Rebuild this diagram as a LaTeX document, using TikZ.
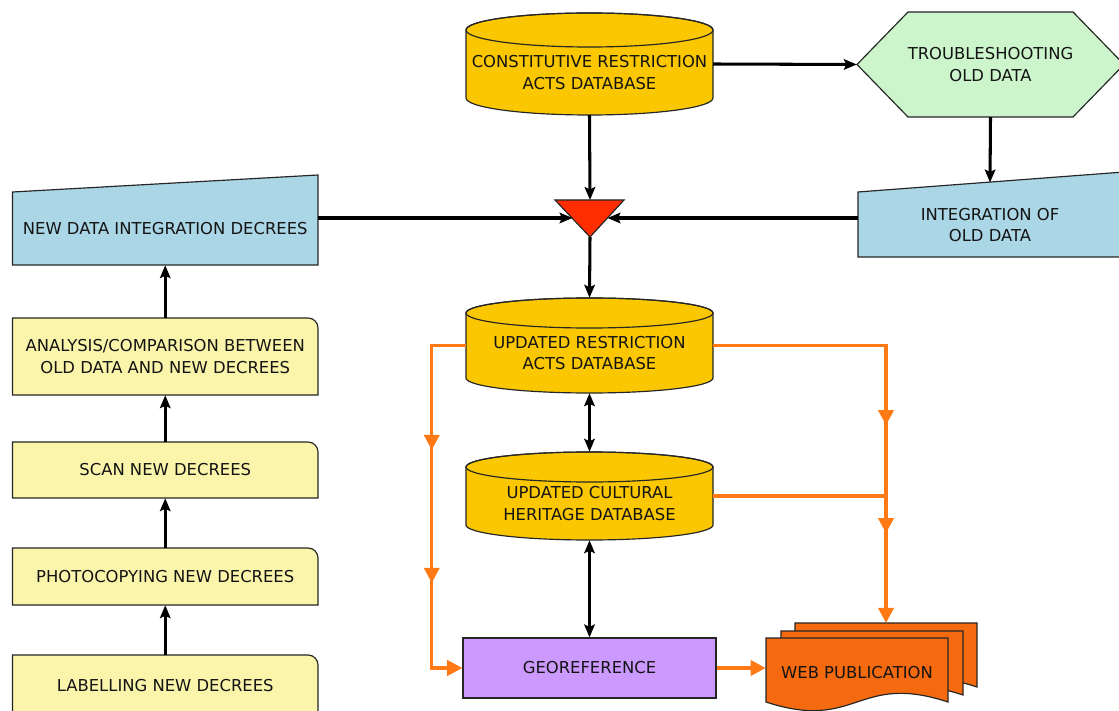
\documentclass[tikz,border=0pt]{standalone}
\usepackage{fontspec}
\setmainfont{DejaVu Sans}
\usetikzlibrary{arrows.meta,calc,decorations.markings}
\definecolor{gold}{RGB}{250,199,0}
\definecolor{skyb}{RGB}{170,214,230}
\definecolor{yel}{RGB}{250,245,170}
\definecolor{hexg}{RGB}{204,245,204}
\definecolor{lav}{RGB}{204,153,255}
\definecolor{trired}{RGB}{255,45,0}
\definecolor{orln}{RGB}{255,122,20}
\definecolor{webor}{RGB}{245,105,15}
\definecolor{txt}{RGB}{20,20,20}
\tikzset{
  lbl/.style={font=\fontsize{14}{18}\selectfont, text=txt, align=center, inner sep=0pt},
  outl/.style={draw=black!85, line width=1pt},
  blk/.style={line width=2.6pt, -{Stealth[length=11pt,width=9pt,inset=2pt]}},
  dbl/.style={line width=2.6pt, {Stealth[length=11pt,width=9pt,inset=2pt]}-{Stealth[length=11pt,width=9pt,inset=2pt]}},
  org/.style={draw=orln, line width=2.8pt},
  otip/.style={-{Triangle[length=13pt,width=13pt]}},
}
\newcommand\dbcyl[6]{%
  \path[fill=gold, outl] (#2-123.5,-#3-#5) -- (#2-123.5,-#4+#5) arc (180:360:123.5 and #5) -- (#2+123.5,-#3-#5) arc (0:180:123.5 and #5) -- cycle;
  \draw[outl] (#2,-#3-#5) ellipse (123.5 and #5);
  \node[lbl, minimum width=7.41cm, minimum height={(#4-#3)*0.03cm}] (#1) at (#2,{-(#3+#4)/2}) {};
  \node[lbl] (#1-t) at ($(#1.center)+(0,-#5/2)$) {#6};
}
\newcommand\ybox[4]{%
  \path[fill=yel, outl] (12.5,-#3) -- (12.5,-#2) -- (308,-#2) arc (90:0:10) -- (318,-#3) -- cycle;
  \node[lbl, minimum width=9.165cm, minimum height={(#3-#2)*0.03cm}] (#1) at (165.25,{-(#2+#3)/2}) {#4};
}
\newcommand\docsh[2]{%
  \path[fill=webor, outl] (766+#1,-638+#2) -- (948+#1,-638+#2) -- (948+#1,-702+#2)
    .. controls (857+#1,-672+#2) and (857+#1,-732+#2) .. (766+#1,-702+#2) -- cycle;
}
\begin{document}
\begin{tikzpicture}[x=0.03cm,y=0.03cm]
\fill[white] (0,0) rectangle (1119,-711);
\useasboundingbox (0,0) rectangle (1119,-711);

% top database
\dbcyl{c1}{589.5}{13}{115}{17}{CONSTITUTIVE RESTRICTION\\ACTS DATABASE}

% hexagon
\path[fill=hexg, outl] (857,-64.5) -- (908,-12) -- (1073,-12) -- (1124,-64.5) -- (1073,-117) -- (908,-117) -- cycle;
\node[lbl, minimum width=8.01cm, minimum height=3.15cm] (hex) at (990.5,-64.5) {TROUBLESHOOTING\\OLD DATA};

% integration of old data
\path[fill=skyb, outl] (858,-192) -- (1124,-172) -- (1124,-257) -- (858,-257) -- cycle;
\node[lbl, minimum width=7.92cm, minimum height=1.92cm] (int) at (990,-225) {INTEGRATION OF\\OLD DATA};
\coordinate (inttop) at (990,-182.5);

% new data integration decrees
\path[fill=skyb, outl] (12.5,-192) -- (318,-175) -- (318,-265) -- (12.5,-265) -- cycle;
\node[lbl, minimum width=9.165cm, minimum height=2.16cm] (ndi) at (165.25,-229) {NEW DATA INTEGRATION DECREES};

% triangle
\path[fill=trired, outl] (555,-200) -- (624,-200) -- (590,-237) -- cycle;
\coordinate (tritop) at (590,-200);
\coordinate (trileft) at (572.5,-218);
\coordinate (triright) at (607.5,-218);
\coordinate (triapex) at (590,-237);

% left column
\ybox{ana}{318}{395}{ANALYSIS/COMPARISON BETWEEN\\OLD DATA AND NEW DECREES}
\ybox{scan}{442}{498}{SCAN NEW DECREES}
\ybox{photo}{548}{605}{PHOTOCOPYING NEW DECREES}
\ybox{lab}{655}{716}{LABELLING NEW DECREES}

% updated databases
\dbcyl{c2}{589.5}{298}{393}{15}{UPDATED RESTRICTION\\ACTS DATABASE}
\dbcyl{c3}{589.5}{452}{540}{15}{UPDATED CULTURAL\\HERITAGE DATABASE}

% georeference
\node[lbl, fill=lav, outl, minimum width=7.59cm, minimum height=1.8cm] (geo) at (589.5,-668) {GEOREFERENCE};

% web publication
\docsh{29}{15}
\docsh{15}{7}
\docsh{0}{0}
\node[lbl, minimum width=5.46cm, minimum height=2.1cm] (web) at (857,-673) {WEB PUBLICATION};
\coordinate (webtop) at (886,-623);

% black connectors
\draw[blk] (c1.east) -- (hex.west);
\draw[blk] (hex.south) -- (inttop);
\draw[blk] (c1.south) -- (tritop);
\draw[blk] (ndi.east |- trileft) -- (trileft);
\draw[blk] (int.west |- triright) -- (triright);
\draw[blk] (triapex) -- (c2.north);
\draw[dbl] (c2.south) -- (c3.north);
\draw[dbl] (c3.south) -- (geo.north);
\draw[blk] (lab.north) -- (photo.south);
\draw[blk] (photo.north) -- (scan.south);
\draw[blk] (scan.north) -- (ana.south);
\draw[blk] (ana.north) -- (ndi.south);

% orange connectors
\draw[org, otip, decoration={markings,
    mark=at position 4.155cm with {\arrow{Triangle[length=13pt,width=13pt]}},
    mark=at position 8.145cm with {\arrow{Triangle[length=13pt,width=13pt]}}},
    postaction={decorate}]
  (c2.west) -- ++(-34,0) |- (geo.west);
\draw[org, otip, decoration={markings,
    mark=at position 7.575cm with {\arrow{Triangle[length=13pt,width=13pt]}},
    mark=at position 10.815cm with {\arrow{Triangle[length=13pt,width=13pt]}}},
    postaction={decorate}]
  (c2.east) -| (webtop);
\draw[org] (c3.east) -- (c3.east -| webtop);
\draw[org, otip] (geo.east) -- (geo.east -| web.west);
\end{tikzpicture}
\end{document}
